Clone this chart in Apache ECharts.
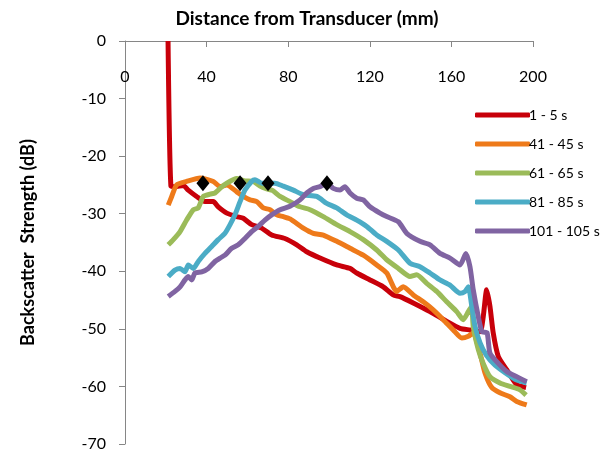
<!DOCTYPE html>
<html>
<head>
<meta charset="utf-8">
<title>Backscatter strength</title>
<script src="https://cdn.jsdelivr.net/npm/echarts@6/dist/echarts.min.js"></script>
<style>
  html, body { margin: 0; padding: 0; background: #fff; }
  #chart { width: 614px; height: 456px; }
</style>
</head>
<body>
<div id="chart"></div>
<script>
// [distance mm, dB]
const s1to5 = [[21.1,0],[22.5,-25.2],[24.5,-25.3],[28.6,-25.1],[31.0,-25.9],[35.1,-27.0],[39.2,-27.9],[43.3,-27.9],[45.7,-28.8],[49.9,-29.9],[54.8,-30.5],[58.0,-30.8],[62.1,-31.9],[67.0,-32.5],[71.9,-33.7],[78.4,-34.3],[84.2,-35.4],[89.1,-36.6],[95.6,-37.7],[103.8,-38.9],[110.3,-39.5],[113.6,-40.3],[120.1,-41.5],[126.6,-42.7],[131.5,-44.1],[134.8,-44.4],[141.3,-45.5],[149.5,-47.0],[157.7,-48.7],[164.2,-49.9],[169.1,-50.2],[174.0,-50.5],[175.6,-47.9],[177.3,-43.2],[178.9,-46.1],[180.5,-50.7],[183.0,-54.8],[187.1,-57.1],[192.0,-59.7],[196.6,-60.2]]
const s41to45 = [[21.2,-28.5],[22.9,-27.0],[25.3,-25.0],[30.2,-24.4],[36.8,-23.8],[43.3,-24.4],[46.6,-25.3],[49.9,-25.0],[54.8,-26.2],[58.0,-27.0],[61.3,-27.6],[64.6,-27.9],[67.8,-29.0],[71.1,-29.3],[74.4,-30.2],[77.6,-30.5],[80.9,-30.9],[87.4,-32.5],[92.3,-33.4],[97.2,-33.7],[103.8,-34.8],[110.3,-36.0],[116.8,-37.2],[123.4,-38.9],[128.3,-40.3],[133.2,-43.5],[136.4,-42.7],[141.3,-44.1],[146.2,-45.3],[151.1,-46.7],[156.0,-48.4],[160.9,-50.2],[165.1,-51.6],[168.3,-51.3],[170.7,-50.7],[174.0,-54.2],[176.5,-57.7],[179.8,-60.2],[183.8,-61.1],[188.7,-61.8],[192.0,-62.6],[196.9,-63.2]]
const s61to65 = [[21.2,-35.4],[23.7,-34.5],[27.0,-33.1],[30.2,-31.1],[33.5,-29.3],[35.9,-29.0],[38.4,-27.0],[41.7,-26.6],[44.1,-26.4],[46.6,-25.6],[49.9,-24.7],[54.8,-23.9],[58.8,-24.3],[62.9,-24.4],[66.2,-25.2],[69.5,-25.7],[72.5,-26.0],[76.0,-27.0],[80.9,-27.9],[85.8,-28.8],[90.7,-29.3],[97.2,-30.5],[103.8,-31.9],[110.3,-33.1],[116.8,-34.5],[123.4,-36.3],[128.3,-38.0],[134.0,-39.5],[139.7,-40.9],[143.0,-40.6],[147.9,-42.1],[152.8,-43.5],[157.7,-45.3],[162.6,-47.0],[165.8,-48.4],[168.3,-47.0],[169.9,-46.1],[170.7,-49.6],[173.2,-53.6],[175.6,-56.0],[178.9,-58.3],[183.8,-59.4],[188.7,-60.0],[193.6,-60.6],[196.6,-61.5]]
const s81to85 = [[21.2,-40.9],[24.5,-39.8],[27.0,-39.5],[29.4,-40.1],[31.0,-38.9],[33.5,-39.5],[35.9,-38.3],[39.2,-36.9],[42.5,-35.7],[45.7,-34.5],[49.0,-33.4],[51.5,-31.9],[53.9,-30.2],[56.4,-27.9],[58.8,-25.9],[62.1,-24.4],[63.7,-24.1],[67.0,-24.7],[70.2,-24.7],[73.5,-24.7],[77.6,-25.2],[82.5,-25.9],[87.4,-26.7],[94.0,-27.0],[98.9,-28.2],[103.8,-29.0],[108.7,-30.2],[113.6,-31.1],[118.5,-32.2],[123.4,-33.7],[128.3,-34.8],[134.0,-36.3],[139.7,-38.6],[144.6,-39.2],[149.5,-40.3],[154.4,-41.5],[159.3,-42.4],[164.2,-43.8],[166.7,-43.5],[168.3,-42.7],[170.0,-46.1],[171.6,-49.6],[174.0,-52.4],[177.0,-54.5],[181.4,-56.3],[186.3,-57.6],[192.0,-58.9],[196.9,-59.4]]
const s101to105 = [[21.2,-44.4],[24.5,-43.5],[27.0,-42.7],[29.4,-41.5],[31.0,-40.9],[32.7,-41.5],[34.3,-40.3],[37.6,-40.1],[40.8,-39.5],[44.1,-38.3],[46.6,-37.7],[49.0,-37.2],[52.3,-36.0],[55.5,-35.4],[58.8,-34.3],[62.1,-33.1],[65.3,-32.2],[68.6,-31.1],[71.9,-30.2],[76.0,-29.3],[80.9,-28.7],[85.8,-27.6],[89.1,-26.4],[92.3,-25.6],[95.6,-25.3],[98.9,-24.7],[102.1,-25.6],[105.4,-25.9],[107.8,-25.3],[110.3,-26.4],[113.6,-27.3],[116.8,-27.6],[120.1,-28.8],[125.0,-29.9],[128.3,-30.5],[134.0,-31.4],[138.1,-33.4],[144.6,-34.8],[149.5,-35.4],[154.4,-36.9],[159.3,-37.7],[164.2,-38.9],[167.1,-36.9],[169.1,-39.2],[170.7,-43.2],[173.2,-47.9],[175.0,-50.5],[177.5,-50.7],[178.9,-54.2],[183.0,-56.0],[187.1,-57.4],[192.0,-58.3],[196.9,-59.2]]

// black diamonds (peak markers)
const peakX = [38.2, 56.4, 70.1, 99.0]
const peakY = [-24.7, -24.7, -24.7, -24.7]

const seriesNames = ['1 - 5 s', '41 - 45 s', '61 - 65 s', '81 - 85 s', '101 - 105 s']
const seriesData = [s1to5, s41to45, s61to65, s81to85, s101to105]
const colors = ['#c8000a', '#ee7a1a', '#9bbb59', '#4bacc6', '#8064a2']

const font = 'Lato, "Liberation Sans", sans-serif'

const chart = echarts.init(document.getElementById('chart'))

const lines = seriesNames.map((name, i) => ({
  name: name,
  type: 'line',
  data: seriesData[i],
  showSymbol: false,
  smooth: 0.2,
  clip: true,
  lineStyle: { width: 5, color: colors[i] },
  itemStyle: { color: colors[i] },
  z: 2
}))

chart.setOption({
  animation: false,
  title: {
    text: 'Distance from Transducer (mm)',
    left: 'center',
    top: 4,
    textStyle: { fontFamily: font, fontSize: 19, fontWeight: 'bold', color: '#000' }
  },
  legend: {
    data: seriesNames,
    orient: 'vertical',
    left: 470,
    top: 103,
    icon: 'roundRect',
    itemWidth: 55,
    itemHeight: 5,
    itemGap: 15,
    textStyle: { fontFamily: font, fontSize: 14, color: '#000', padding: [0, 0, 0, -6] }
  },
  grid: { left: 125, top: 41, width: 408, bottom: 12 },
  xAxis: {
    type: 'value',
    position: 'top',
    min: 0,
    max: 200,
    interval: 40,
    splitLine: { show: false },
    axisLine: { onZero: false, lineStyle: { color: '#868686', width: 1 } },
    axisTick: { inside: true, length: 6, lineStyle: { color: '#868686' } },
    axisLabel: { inside: true, margin: 28, fontFamily: font, fontSize: 16, color: '#000' }
  },
  yAxis: {
    type: 'value',
    min: -70,
    max: 0,
    interval: 10,
    name: 'Backscatter  Strength (dB)',
    nameLocation: 'middle',
    nameRotate: 90,
    nameGap: 88,
    nameTextStyle: { fontFamily: font, fontSize: 18, fontWeight: 'bold', color: '#000' },
    splitLine: { show: false },
    axisLine: { show: true, lineStyle: { color: '#868686', width: 1 } },
    axisTick: { show: true, length: 6, lineStyle: { color: '#868686' } },
    axisLabel: { margin: 19, fontFamily: font, fontSize: 16, color: '#000' }
  },
  series: lines.concat([{
    name: 'peaks',
    type: 'scatter',
    data: peakX.map((x, i) => [x, peakY[i]]),
    symbol: 'diamond',
    symbolSize: [13, 16],
    itemStyle: { color: '#000', opacity: 1 },
    z: 5
  }])
})
</script>
</body>
</html>
